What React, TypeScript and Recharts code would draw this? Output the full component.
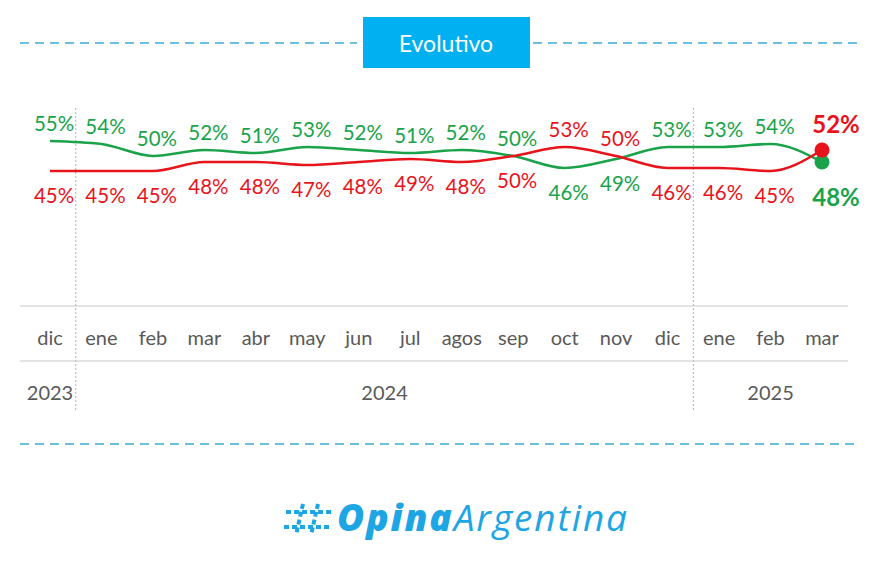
import { LineChart, Line, XAxis, YAxis, ReferenceLine } from "recharts";

const months = ["dic", "ene", "feb", "mar", "abr", "may", "jun", "jul", "agos", "sep", "oct", "nov", "dic", "ene", "feb", "mar"];
const approve = [55, 54, 50, 52, 51, 53, 52, 51, 52, 50, 46, 49, 53, 53, 54, 48];
const disapprove = [45, 45, 45, 48, 48, 47, 48, 49, 48, 50, 53, 50, 46, 46, 45, 52];
const years = [
  { label: "2023", from: 0, to: 0 },
  { label: "2024", from: 1, to: 12 },
  { label: "2025", from: 13, to: 15 },
];

const GREEN = "#1aa34a";
const RED = "#e8141c";
const GRID = "#c8c8c8";
const TEXT = "#595959";
const LOGO = "#1ea5e3";
const FONT = "Lato, 'Open Sans', sans-serif";

const data = months.map((m, i) => ({ i, month: m, approve: approve[i], disapprove: disapprove[i] }));
const monthTicks = months.map((_, i) => i);
const yearTicks = years.map((y) => (y.from + y.to) / 2);
const separators = years.slice(1).map((y) => y.from - 0.5);
const last = months.length - 1;

const MonthTick = (props: any) => {
  const { x, y, payload } = props;
  return (
    <text x={x} y={y + 31} textAnchor="middle" dominantBaseline="central" fill={TEXT} fontSize={20} fontFamily={FONT}>
      {months[payload.value]}
    </text>
  );
};

const YearTick = (props: any) => {
  const { x, y, payload } = props;
  const yr = years.find((g) => (g.from + g.to) / 2 === payload.value);
  return (
    <text x={x} y={y + 31} textAnchor="middle" dominantBaseline="central" fill={TEXT} fontSize={20} fontFamily={FONT}>
      {yr ? yr.label : ""}
    </text>
  );
};

function makeLabel(series: number[], other: number[], color: string, winsTies: boolean) {
  return (props: any) => {
    const { x, y, index } = props;
    const v = series[index];
    const above = v > other[index] || (v === other[index] && winsTies);
    const isLast = index === last;
    const off = isLast ? (above ? -27 : 34) : above ? -18 : 24;
    return (
      <text
        key={`l-${color}-${index}`}
        x={x + (isLast ? 14 : 4)}
        y={y + off}
        textAnchor="middle"
        dominantBaseline="central"
        fill={color}
        fontSize={isLast ? 24 : 20.5}
        fontWeight={isLast ? 700 : 400}
        fontFamily={FONT}
      >
        {v}%
      </text>
    );
  };
}

function makeDot(color: string) {
  return (props: any) => {
    const { cx, cy, index } = props;
    if (index !== last) return <g key={`d-${color}-${index}`} />;
    return <circle key={`d-${color}-${index}`} cx={cx} cy={cy} r={7.5} fill={color} />;
  };
}

function Dashed({ x1, x2, y }: { x1: number; x2: number; y: number }) {
  return <line x1={x1} x2={x2} y1={y} y2={y} stroke="#3fa9d6" strokeWidth={1.6} strokeDasharray="9 6" />;
}

export default function App() {
  return (
    <div style={{ position: "relative", width: 878, height: 561, background: "#fff", overflow: "hidden" }}>
      <style>{"body{margin:0}"}</style>
      <svg width={878} height={561} style={{ position: "absolute", left: 0, top: 0 }}>
        <Dashed x1={20} x2={357} y={43} />
        <Dashed x1={533} x2={858} y={43} />
        <Dashed x1={20} x2={860} y={444} />
        <rect x={363} y={17} width={167} height={51} fill="#00b0f0" />
        <text x={446} y={43} textAnchor="middle" dominantBaseline="central" fill="#fff" fontSize={23} fontFamily={FONT}>
          Evolutivo
        </text>
        <g stroke={LOGO} strokeWidth={4} strokeDasharray="5 3" fill="none">
          <line x1={303} y1={504} x2={296} y2={535} />
          <line x1={318} y1={504} x2={311} y2={535} />
          <line x1={286} y1={512} x2={331} y2={512} />
          <line x1={284} y1={527} x2={329} y2={527} />
        </g>
        <text x={337} y={531} fill={LOGO} fontSize={37} fontStyle="italic" fontFamily="'Open Sans', Lato, sans-serif" letterSpacing={1.9}>
          <tspan fontWeight={800}>Opina</tspan>
          <tspan fontWeight={500}>Argentina</tspan>
        </text>
      </svg>
      <div style={{ position: "absolute", left: 0, top: 0 }}>
        <LineChart width={878} height={420} data={data} margin={{ top: 6, right: 30, bottom: 0, left: 20 }}>
          <YAxis hide domain={[0, 100]} />
          <XAxis
            dataKey="i"
            type="number"
            domain={[0, last]}
            ticks={monthTicks}
            interval={0}
            padding={{ left: 30, right: 26 }}
            height={55}
            tickLine={false}
            tickSize={0}
            tickMargin={0}
            axisLine={{ stroke: GRID }}
            tick={<MonthTick />}
          />
          <XAxis
            xAxisId="year"
            dataKey="i"
            type="number"
            domain={[0, last]}
            ticks={yearTicks}
            interval={0}
            padding={{ left: 30, right: 26 }}
            height={59}
            tickLine={false}
            tickSize={0}
            tickMargin={0}
            axisLine={{ stroke: GRID }}
            tick={<YearTick />}
          />
          {separators.map((s) => (
            <ReferenceLine
              key={s}
              segment={[
                { x: s, y: 66 },
                { x: s, y: -35 },
              ]}
              ifOverflow="visible"
              stroke="#b0b0b0"
              strokeDasharray="2 2"
            />
          ))}
          <Line
            dataKey="approve"
            type="monotone"
            stroke={GREEN}
            strokeWidth={2.6}
            dot={makeDot(GREEN)}
            activeDot={false}
            label={makeLabel(approve, disapprove, GREEN, true)}
            isAnimationActive={false}
          />
          <Line
            dataKey="disapprove"
            type="monotone"
            stroke={RED}
            strokeWidth={2.6}
            dot={makeDot(RED)}
            activeDot={false}
            label={makeLabel(disapprove, approve, RED, false)}
            isAnimationActive={false}
          />
        </LineChart>
      </div>
    </div>
  );
}
